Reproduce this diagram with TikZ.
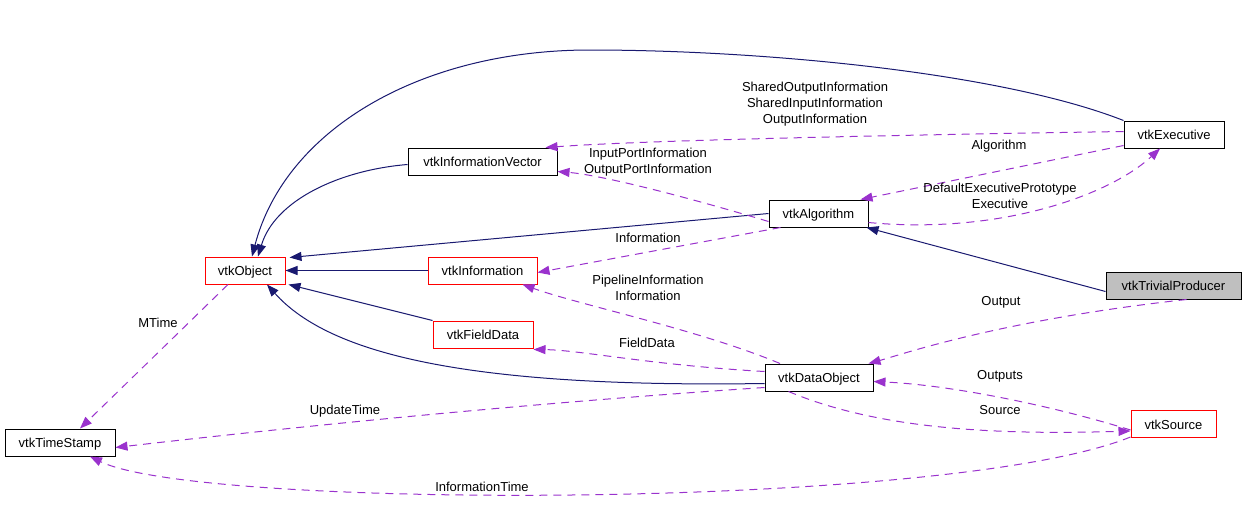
\documentclass[tikz,border=0pt]{standalone}
\usepackage{fontspec}
\setmainfont{Liberation Sans}
\usetikzlibrary{arrows.meta}
\definecolor{navyc}{HTML}{191970}
\definecolor{purp}{HTML}{9A32CD}
\definecolor{grayfill}{HTML}{BFBFBF}
\tikzset{
  cls/.style={draw=black, line width=1pt, inner sep=0pt, minimum height=27pt, text height=10pt, text depth=0pt, font=\fontsize{13}{15}\selectfont},
  redcls/.style={cls, draw=red},
  inh/.style={draw=navyc, line width=1pt, -{Triangle[length=12pt,width=9pt]}},
  use/.style={draw=purp, line width=1pt, dash pattern=on 8pt off 6pt, -{Triangle[length=12pt,width=9pt]}},
  lbl/.style={inner sep=0pt, align=center, font=\fontsize{13}{16}\selectfont}
}
\begin{document}
\begin{tikzpicture}[x=1pt,y=-1pt]
\useasboundingbox (0,0) rectangle (1245,525);
% classes
\node[redcls, minimum width=80pt] (obj) at (245,270.5) {vtkObject};
\node[cls, minimum width=110pt] (ts) at (60,442.5) {vtkTimeStamp};
\node[cls, minimum width=149pt] (ivec) at (482.5,161.5) {vtkInformationVector};
\node[cls, minimum width=99pt] (alg) at (818.5,213.5) {vtkAlgorithm};
\node[cls, minimum width=100pt] (exe) at (1174,134.5) {vtkExecutive};
\node[redcls, minimum width=109pt] (info) at (482.5,270.5) {vtkInformation};
\node[redcls, minimum width=100pt] (field) at (483,334.5) {vtkFieldData};
\node[cls, minimum width=108pt] (dobj) at (819,377.5) {vtkDataObject};
\node[cls, fill=grayfill, minimum width=135pt] (triv) at (1173.5,285.5) {vtkTrivialProducer};
\node[redcls, minimum width=85pt] (src) at (1173.5,424) {vtkSource};
% inheritance
\draw[inh] (exe.north west) .. controls (1000,72) and (760,50) .. (590,50) .. controls (420,50) and (285,130) .. ([xshift=7pt]obj.north);
\draw[inh] ([yshift=-3pt]ivec.west) .. controls (340,170) and (275,200) .. ([xshift=13pt]obj.north);
\draw[inh] (alg.west) -- ([xshift=4pt,yshift=-1pt]obj.north east);
\draw[inh] (info.west) -- (obj.east);
\draw[inh] (field.north west) -- ([xshift=3pt]obj.south east);
\draw[inh] ([yshift=-6pt]dobj.west) .. controls (470,388) and (330,355) .. ([xshift=22pt]obj.south);
\draw[inh] ([yshift=-6pt]triv.west) -- ([xshift=-2pt]alg.south east);
% usage
\draw[use] ([yshift=3pt]exe.west) .. controls (900,135) and (650,140) .. ([xshift=-12pt]ivec.north east);
\draw[use] ([yshift=-8pt]alg.west) .. controls (680,195) and (600,175) .. ([yshift=-10pt]ivec.east);
\draw[use] ([yshift=-11pt]exe.west) -- ([xshift=-8pt]alg.north east);
\draw[use] ([yshift=-9pt]alg.east) .. controls (1000,235) and (1110,195) .. ([xshift=-14pt]exe.south);
\draw[use] ([xshift=-38pt]alg.south) -- ([yshift=-2pt]info.east);
\draw[use] ([xshift=-39pt]dobj.north) .. controls (700,330) and (580,305) .. ([xshift=-15pt]info.south east);
\draw[use] ([yshift=6pt]dobj.west) .. controls (650,365) and (580,350) .. ([yshift=-1pt]field.south east);
\draw[use] ([xshift=-17pt]obj.south) -- ([xshift=20pt]ts.north);
\draw[use] ([yshift=-10pt]dobj.west) .. controls (500,405) and (250,432) .. ([yshift=-5pt]ts.east);
\draw[use] ([yshift=-13pt]src.west) .. controls (950,510) and (200,510) .. ([xshift=30pt]ts.south);
\draw[use] ([xshift=-55pt]triv.south east |- triv.south) .. controls (1000,320) and (900,355) .. ([xshift=-5pt]dobj.north east);
\draw[use] ([yshift=-6pt]src.west) .. controls (1050,405) and (950,385) .. ([yshift=-4pt]dobj.east);
\draw[use] ([xshift=24pt]dobj.south west) .. controls (880,430) and (1000,435) .. ([yshift=-7pt]src.west);
% labels
\node[lbl] (l1) at (815,104) {SharedOutputInformation\\SharedInputInformation\\OutputInformation};
\node[lbl] (l2) at (648,162) {InputPortInformation\\OutputPortInformation};
\node[lbl] (l3) at (999,146) {Algorithm};
\node[lbl] (l4) at (1000,196) {DefaultExecutivePrototype\\Executive};
\node[lbl] (l5) at (648,238) {Information};
\node[lbl] (l6) at (648,288) {PipelineInformation\\Information};
\node[lbl] (l7) at (647,343) {FieldData};
\node[lbl] (l8) at (158,323) {MTime};
\node[lbl] (l9) at (345,411) {UpdateTime};
\node[lbl] (l10) at (482,487) {InformationTime};
\node[lbl] (l11) at (1001,302) {Output};
\node[lbl] (l12) at (1000,376) {Outputs};
\node[lbl] (l13) at (1000,410) {Source};
\end{tikzpicture}
\end{document}
